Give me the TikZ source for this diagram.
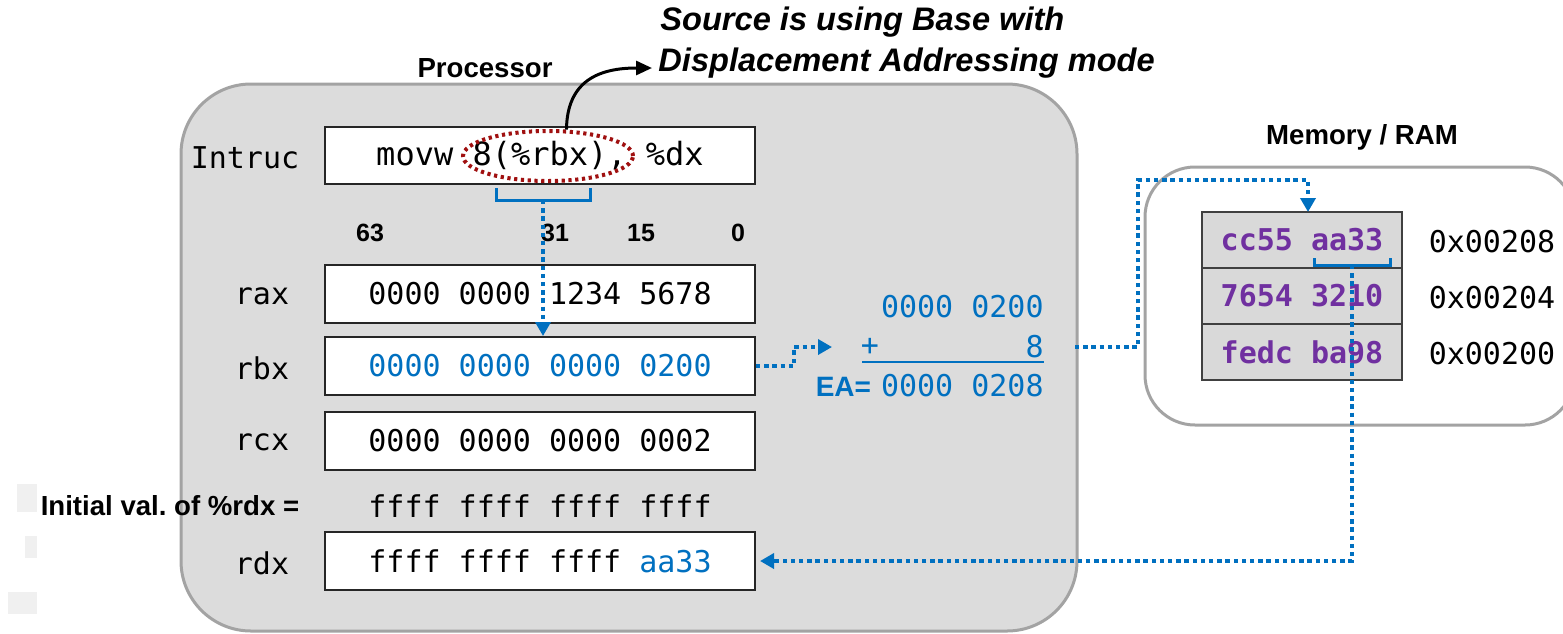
\documentclass[tikz,border=0pt]{standalone}
\usepackage{fontspec}
\setmainfont{Liberation Sans}
\newfontfamily\regmono{DejaVu Sans Mono}
\usetikzlibrary{arrows.meta,shapes.geometric}
\definecolor{procgray}{HTML}{DCDCDC}
\definecolor{edgegray}{HTML}{A3A3A3}
\definecolor{flowblue}{HTML}{0070C0}
\definecolor{mempurple}{HTML}{7030A0}
\definecolor{ovalred}{HTML}{A01010}
\definecolor{cellgray}{HTML}{D9D9D9}
\definecolor{faint}{HTML}{F0F0F0}
\begin{document}
\begin{tikzpicture}[x=0.5pt,y=-0.5pt,
  monotxt/.style={font=\regmono\fontsize{15}{18}\selectfont},
  sanslbl/.style={font=\bfseries\fontsize{13.8}{16}\selectfont, inner sep=0pt},
  bitlbl/.style={font=\bfseries\fontsize{12.5}{15}\selectfont, inner sep=0pt},
  ttl/.style={font=\bfseries\itshape\fontsize{16.3}{19}\selectfont, inner sep=0pt, anchor=west},
  regbox/.style={draw=black!85, line width=1pt, fill=white, minimum width=215pt,
                 minimum height=29pt, inner sep=0pt, monotxt},
  reglbl/.style={monotxt, inner sep=0pt},
  cell/.style={draw=black!75, line width=1pt, fill=cellgray, minimum width=100pt,
               minimum height=28pt, inner sep=0pt,
               font=\regmono\bfseries\fontsize{15}{18}\selectfont, text=mempurple},
  flow/.style={draw=flowblue, line width=2.4pt, dash pattern=on 2.2pt off 1.9pt},
  flowtip/.style={-{Triangle[length=7pt,width=7.5pt]}},
  brk/.style={draw=flowblue, line width=1.5pt},
  panel/.style={draw=edgegray, line width=1.5pt, inner sep=0pt},
]
\useasboundingbox (0,0) rectangle (1563,633);

% light marks along the left margin
\fill[faint] (17,484) rectangle (37,512);
\fill[faint] (25,536) rectangle (37,558);
\fill[faint] (8,592) rectangle (37,614);

% processor and memory panels
\node[panel, fill=procgray, rounded corners=35pt, minimum width=448pt,
      minimum height=273.5pt] (proc) at (629,357.5) {};
\node[sanslbl] (proclbl) at (485,68) {Processor};
\node[panel, fill=white, rounded corners=25pt, minimum width=215pt,
      minimum height=129pt] (mem) at (1360,296) {};
\node[sanslbl] (memlbl) at (1362,137) {Memory / RAM};

% title
\node[ttl] (ttl1) at (660,22) {Source is using Base with};
\node[ttl] (ttl2) at (658,63) {Displacement Addressing mode};

% instruction register
\node[regbox, minimum height=28.5pt, font=\regmono\fontsize{16}{19}\selectfont]
  (instr) at (540,155.5) {movw 8(\%rbx), \%dx};
\node[reglbl] (instrlbl) at (245,158) {Intruc};

% bit positions
\node[bitlbl] (b63) at (370,233) {63};
\node[bitlbl] (b31) at (555,233) {31};
\node[bitlbl] (b15) at (641,233) {15};
\node[bitlbl] (b0)  at (738,233) {0};

% general purpose registers
\node[regbox] (rax) at (540,294) {0000 0000 1234 5678};
\node[reglbl] (raxlbl) at (262,296) {rax};
\node[regbox, text=flowblue] (rbx) at (540,366) {0000 0000 0000 0200};
\node[reglbl] (rbxlbl) at (262,368) {rbx};
\node[regbox] (rcx) at (540,441) {0000 0000 0000 0002};
\node[reglbl] (rcxlbl) at (262,442) {rcx};
\node[sanslbl] (initlbl) at (170,506) {Initial val.\ of \%rdx =};
\node[reglbl] (initval) at (540,506) {ffff ffff ffff ffff};
\node[regbox] (rdx) at (540,561) {ffff ffff ffff \textcolor{flowblue}{aa33}};
\node[reglbl] (rdxlbl) at (262,563) {rdx};

% effective address computation
\node[monotxt, text=flowblue, anchor=east, inner sep=0pt] (opa) at (1044,307) {0000 0200};
\node[monotxt, text=flowblue, inner sep=0pt] (plus) at (870,347) {+};
\node[monotxt, text=flowblue, anchor=east, inner sep=0pt] (opb) at (1044,347) {8};
\draw[flowblue, line width=1.2pt] (862,362) -- (1044,362);
\node[anchor=east, inner sep=0pt, text=flowblue] (ea) at (1044,386)
  {{\bfseries\fontsize{14}{17}\selectfont EA=}\hspace{5pt}{\regmono\fontsize{15}{18}\selectfont 0000 0208}};
\coordinate (sumin) at (832,347);
\coordinate (sumout) at (1075,347);

% memory cells and addresses
\node[cell] (m1) at (1302,240) {cc55 aa33};
\node[cell] (m2) at (1302,296) {7654 3210};
\node[cell] (m3) at (1302,352) {fedc ba98};
\node[reglbl] (a1) at (1492,242) {0x00208};
\node[reglbl] (a2) at (1492,298) {0x00204};
\node[reglbl] (a3) at (1492,354) {0x00200};
\coordinate (memin) at (1308,212);

% source operand oval and its note
\node[ellipse, draw=ovalred, line width=2pt, dash pattern=on 1.6pt off 1.8pt,
      minimum width=85pt, minimum height=25pt, inner sep=0pt] (oval) at (548,156) {};
\draw[black, line width=1.5pt, -{Triangle[length=8pt,width=7pt]}]
  (oval.55) .. controls (567,80) and (600,68) .. ([shift={(-3pt,-2.5pt)}]ttl2.west);

% base register selection
\draw[brk] (496,188) -- (496,200) -- (590,200) -- (590,188);
\coordinate (brka) at (543,200);
\draw[flow, flowtip] (brka) -- (brka |- rbx.north);

% base value to the adder, address to memory
\draw[flow, flowtip] (rbx.east) -- ++(38,0) |- (sumin);
\draw[flow, flowtip] (sumout) -| (1138,180) -| (memin);

% selected word back to rdx
\draw[brk] (1314,258) -- (1314,265) -- (1390,265) -- (1390,258);
\coordinate (brkb) at (1352,265);
\draw[flow, flowtip, shorten >=2pt] (brkb) |- (rdx.east);
\end{tikzpicture}
\end{document}
